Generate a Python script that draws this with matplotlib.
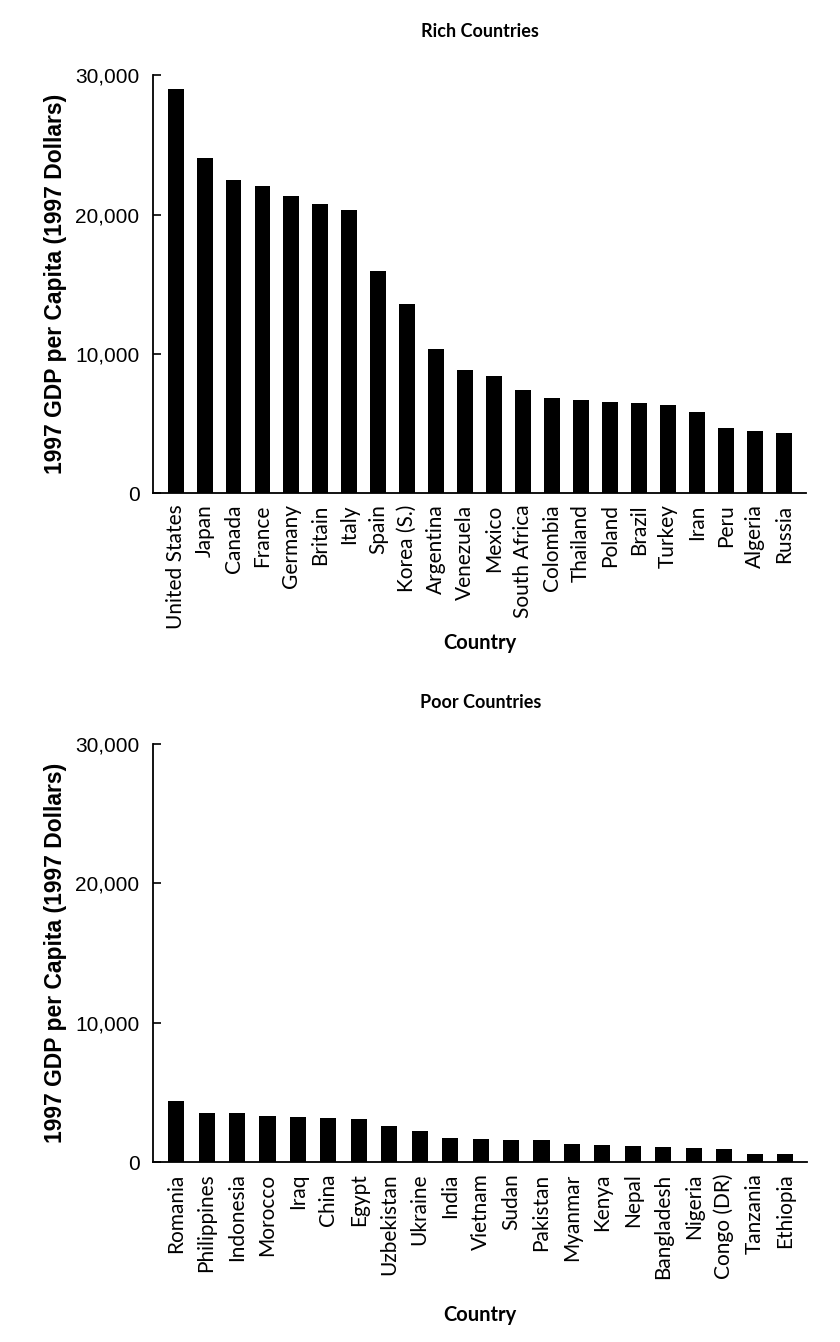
import matplotlib
matplotlib.use("Agg")
import matplotlib.pyplot as plt
from matplotlib.ticker import FuncFormatter

rich_countries = ["United States", "Japan", "Canada", "France", "Germany", "Britain",
                  "Italy", "Spain", "Korea (S.)", "Argentina", "Venezuela", "Mexico",
                  "South Africa", "Colombia", "Thailand", "Poland", "Brazil", "Turkey",
                  "Iran", "Peru", "Algeria", "Russia"]
rich_gdp = [29000, 24070, 22520, 22040, 21320, 20750, 20320, 15960, 13620, 10340,
            8880, 8420, 7390, 6840, 6700, 6530, 6480, 6340, 5840, 4690, 4470, 4330]

poor_countries = ["Romania", "Philippines", "Indonesia", "Morocco", "Iraq", "China",
                  "Egypt", "Uzbekistan", "Ukraine", "India", "Vietnam", "Sudan",
                  "Pakistan", "Myanmar", "Kenya", "Nepal", "Bangladesh", "Nigeria",
                  "Congo (DR)", "Tanzania", "Ethiopia"]
poor_gdp = [4370, 3580, 3530, 3360, 3240, 3190, 3100, 2600, 2240, 1740, 1690, 1600,
            1600, 1290, 1240, 1170, 1100, 1000, 950, 640, 570]

y_ticks = [0, 10000, 20000, 30000]
titles = ["Rich Countries", "Poor Countries"]
ylabel = "1997 GDP per Capita (1997 Dollars)"
xlabel = "Country"

fig = plt.figure(figsize=(8.4, 13.42), dpi=100)
ax1 = fig.add_axes([0.1825, 0.6324, 0.9595 - 0.1825, 0.3115])
ax2 = fig.add_axes([0.1825, 0.1338, 0.961 - 0.1825, 0.3118])

fmt = FuncFormatter(lambda v, p: f"{int(v):,}")

for ax, cats, vals, title, width, xlim, ttl_y, xl_y in [
        (ax1, rich_countries, rich_gdp, titles[0], 0.55,
         (-0.77, len(rich_countries) - 0.23), 1.105, -0.358),
        (ax2, poor_countries, poor_gdp, titles[1], 0.53,
         (-0.75, len(poor_countries) - 0.27), 1.098, -0.364)]:
    x = range(len(cats))
    ax.bar(x, vals, width=width, color="black")
    ax.set_xlim(*xlim)
    ax.set_ylim(0, 30000)
    ax.set_yticks(y_ticks)
    ax.yaxis.set_major_formatter(fmt)
    ax.set_xticks(list(x))
    ax.set_xticklabels(cats, rotation=90, fontsize=15, family="Lato")
    ax.tick_params(axis="x", length=0, pad=8)
    ax.tick_params(axis="y", direction="in", length=6, width=1.2, labelsize=15, pad=10)
    for lab in ax.get_yticklabels():
        lab.set_family("Liberation Sans")
    for s in ["top", "right"]:
        ax.spines[s].set_visible(False)
    for s in ["left", "bottom"]:
        ax.spines[s].set_linewidth(1.3)
    ax.text(0.5, ttl_y, title, transform=ax.transAxes, ha="center", va="center",
            fontsize=13, fontweight="bold", family="Lato")
    ax.set_xlabel(xlabel, fontsize=14.5, fontweight="bold", family="Lato")
    ax.xaxis.set_label_coords(0.5, xl_y)
    ax.xaxis.label.set_verticalalignment("center")
    ax.set_ylabel(ylabel, fontsize=16.5, fontweight="bold", family="Liberation Sans")
    ax.yaxis.set_label_coords(-0.15, 0.5)
    ax.yaxis.label.set_verticalalignment("center")

fig.savefig("out.png", dpi=100, facecolor="white")
